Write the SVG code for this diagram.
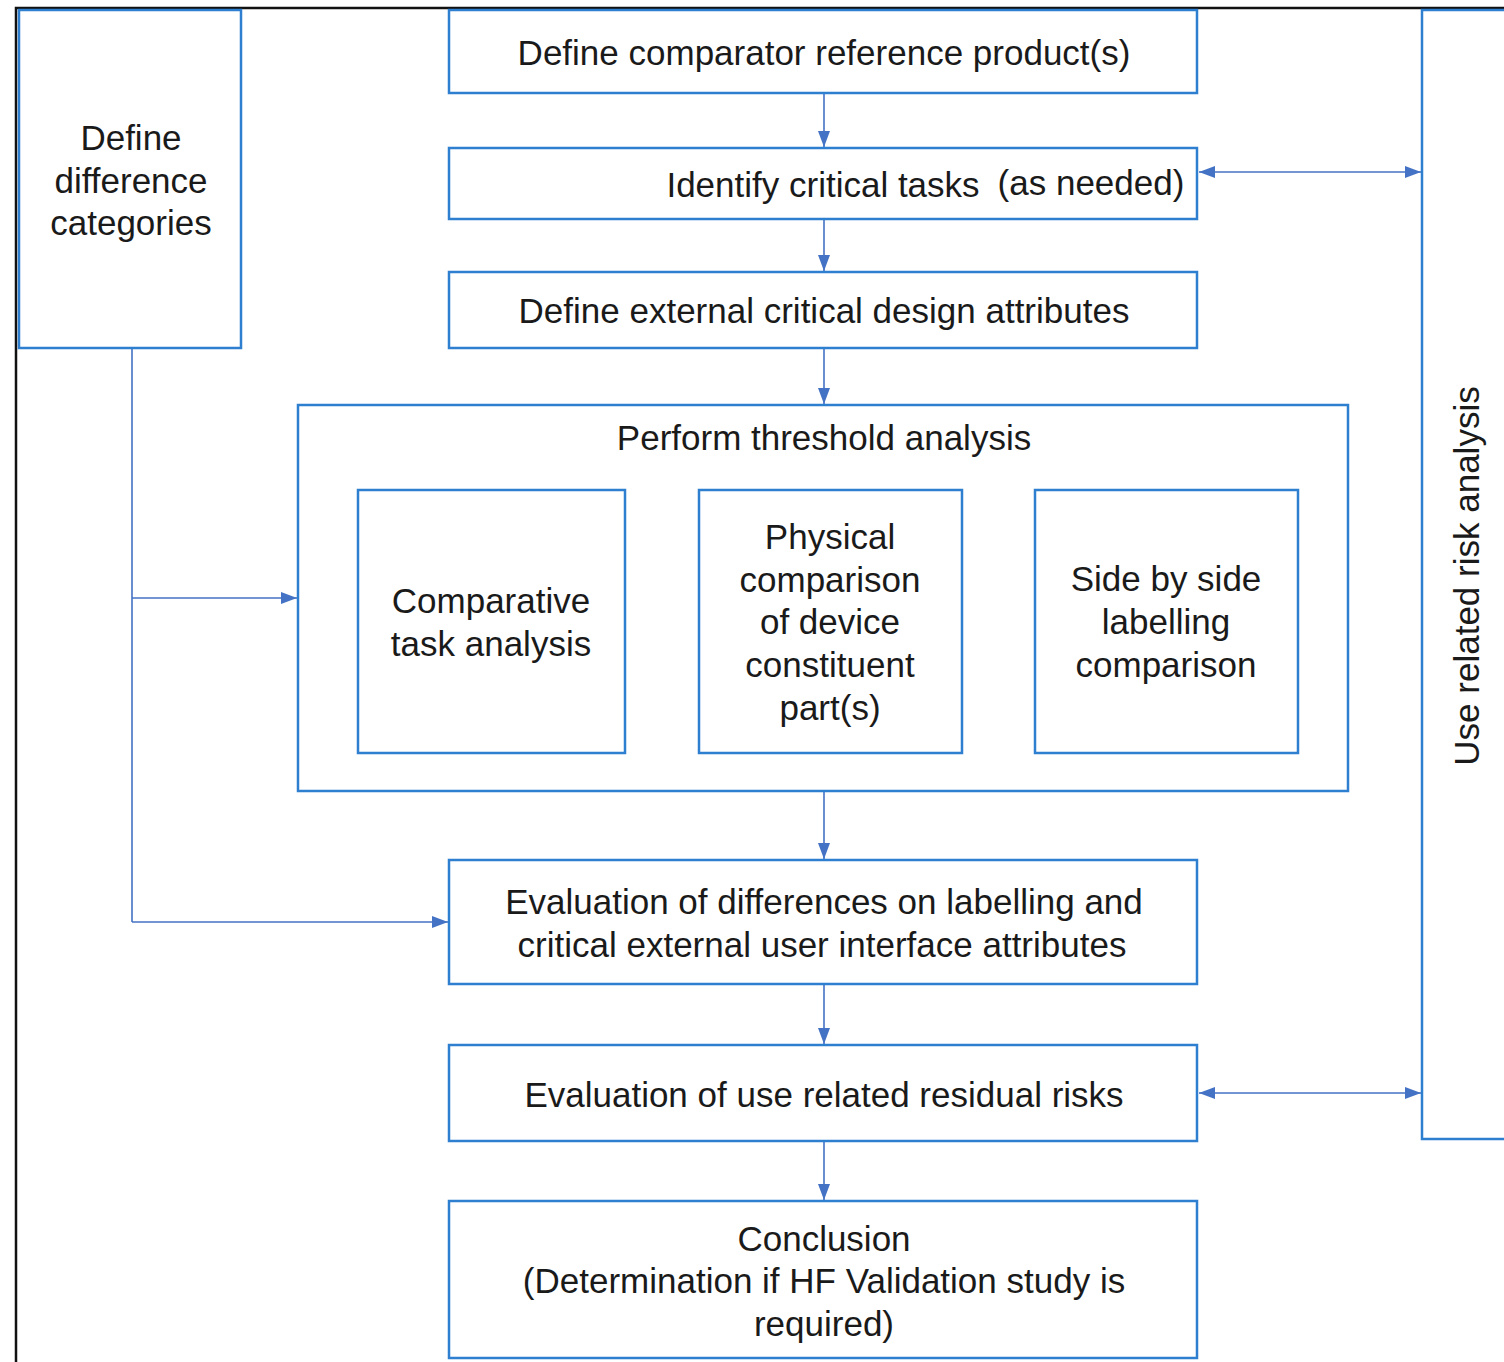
<svg xmlns="http://www.w3.org/2000/svg" width="1504" height="1362" viewBox="0 0 1504 1362">
<style>
.box{fill:#fff;stroke:#2e7fd0;stroke-width:2.5}
.c{stroke:#4472c4;stroke-width:1.6;fill:none}
text{font-family:"Liberation Sans",Arial,sans-serif;font-size:35px;fill:#1a1a1a;text-anchor:middle}
</style>
<defs>
<marker id="ahb" viewBox="0 0 16 12" refX="16" refY="6" markerWidth="16" markerHeight="12" markerUnits="userSpaceOnUse" orient="auto-start-reverse">
<path d="M0,0 L16,6 L0,12 z" fill="#4472c4"/>
</marker>
</defs>
<rect width="1504" height="1362" fill="#fff"/>
<path d="M16,1362 V8 H1504" fill="none" stroke="#111" stroke-width="2.5"/>
<g id="connectors">
<line class="c" x1="824" y1="94" x2="824" y2="147" marker-end="url(#ahb)"/>
<line class="c" x1="824" y1="220" x2="824" y2="271" marker-end="url(#ahb)"/>
<line class="c" x1="824" y1="349" x2="824" y2="404" marker-end="url(#ahb)"/>
<line class="c" x1="824" y1="792" x2="824" y2="859" marker-end="url(#ahb)"/>
<line class="c" x1="824" y1="985" x2="824" y2="1044" marker-end="url(#ahb)"/>
<line class="c" x1="824" y1="1142" x2="824" y2="1200" marker-end="url(#ahb)"/>
<path class="c" d="M132,349 V922"/>
<line class="c" x1="132" y1="598" x2="297" y2="598" marker-end="url(#ahb)"/>
<line class="c" x1="132" y1="922" x2="448" y2="922" marker-end="url(#ahb)"/>
<line class="c" x1="1199" y1="172" x2="1421" y2="172" marker-start="url(#ahb)" marker-end="url(#ahb)"/>
<line class="c" x1="1199" y1="1093" x2="1421" y2="1093" marker-start="url(#ahb)" marker-end="url(#ahb)"/>
</g>
<g id="define-difference">
<rect class="box" x="19" y="10" width="222" height="338"/>
<text x="131" y="150">Define</text>
<text x="131" y="193">difference</text>
<text x="131" y="235">categories</text>
</g>
<g id="define-comparator">
<rect class="box" x="449" y="10" width="748" height="83"/>
<text x="824" y="65">Define comparator reference product(s)</text>
</g>
<g id="identify-critical">
<rect class="box" x="449" y="148" width="748" height="71"/>
<text x="823" y="197">Identify critical tasks</text>
<text x="1091" y="195">(as needed)</text>
</g>
<g id="define-external">
<rect class="box" x="449" y="272" width="748" height="76"/>
<text x="824" y="323">Define external critical design attributes</text>
</g>
<g id="threshold">
<rect class="box" x="298" y="405" width="1050" height="386"/>
<text x="824" y="450">Perform threshold analysis</text>
</g>
<g id="comparative-task">
<rect class="box" x="358" y="490" width="267" height="263"/>
<text x="491" y="613">Comparative</text>
<text x="491" y="656">task analysis</text>
</g>
<g id="physical-comparison">
<rect class="box" x="699" y="490" width="263" height="263"/>
<text x="830" y="549">Physical</text>
<text x="830" y="592">comparison</text>
<text x="830" y="634">of device</text>
<text x="830" y="677">constituent</text>
<text x="830" y="720">part(s)</text>
</g>
<g id="side-by-side">
<rect class="box" x="1035" y="490" width="263" height="263"/>
<text x="1166" y="591">Side by side</text>
<text x="1166" y="634">labelling</text>
<text x="1166" y="677">comparison</text>
</g>
<g id="evaluation-differences">
<rect class="box" x="449" y="860" width="748" height="124"/>
<text x="824" y="914">Evaluation of differences on labelling and</text>
<text x="822" y="957">critical external user interface attributes</text>
</g>
<g id="residual-risks">
<rect class="box" x="449" y="1045" width="748" height="96"/>
<text x="824" y="1107">Evaluation of use related residual risks</text>
</g>
<g id="conclusion">
<rect class="box" x="449" y="1201" width="748" height="157"/>
<text x="824" y="1251">Conclusion</text>
<text x="824" y="1293">(Determination if HF Validation study is</text>
<text x="824" y="1336">required)</text>
</g>
<g id="use-related-risk">
<rect class="box" x="1422" y="10" width="100" height="1129"/>
<text transform="translate(1479,576) rotate(-90)">Use related risk analysis</text>
</g>
</svg>
